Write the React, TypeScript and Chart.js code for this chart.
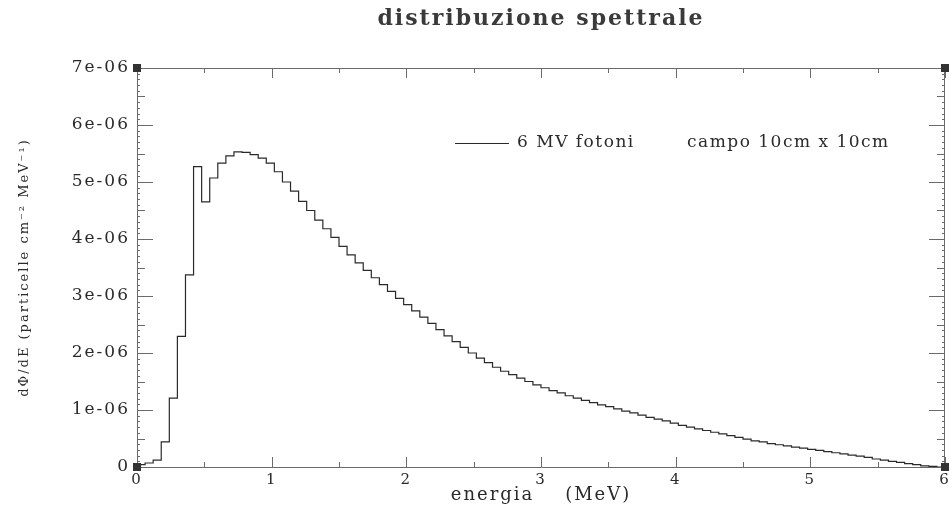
import React, { useEffect, useRef } from 'react';
import { Chart, registerables } from 'chart.js';

Chart.register(...registerables);

// ---- text ----
const TITLE = 'distribuzione spettrale';
const X_TITLE = 'energia    (MeV)';
const Y_TITLE = 'dΦ/dE (particelle cm⁻² MeV⁻¹)';
const SERIES_LABEL = '6 MV fotoni';
const LEGEND_NOTE = 'campo 10cm x 10cm';

// ---- ticks ----
const xTickValues = [0, 1, 2, 3, 4, 5, 6];
const xTickLabels = ['0', '1', '2', '3', '4', '5', '6'];
const yTickValues = [0, 1, 2, 3, 4, 5, 6, 7]; // units of 1e-6
const yTickLabels = ['0', '1e-06', '2e-06', '3e-06', '4e-06', '5e-06', '6e-06', '7e-06'];

// ---- data: bin edges (MeV) and spectral values (units of 1e-6) ----
const binEdges = [
  0, 0.06, 0.12, 0.18, 0.24, 0.3, 0.36, 0.42, 0.48, 0.54,
  0.6, 0.66, 0.72, 0.78, 0.84, 0.9, 0.96, 1.02, 1.08, 1.14,
  1.2, 1.26, 1.32, 1.38, 1.44, 1.5, 1.56, 1.62, 1.68, 1.74,
  1.8, 1.86, 1.92, 1.98, 2.04, 2.1, 2.16, 2.22, 2.28, 2.34,
  2.4, 2.46, 2.52, 2.58, 2.64, 2.7, 2.76, 2.82, 2.88, 2.94,
  3, 3.06, 3.12, 3.18, 3.24, 3.3, 3.36, 3.42, 3.48, 3.54,
  3.6, 3.66, 3.72, 3.78, 3.84, 3.9, 3.96, 4.02, 4.08, 4.14,
  4.2, 4.26, 4.32, 4.38, 4.44, 4.5, 4.56, 4.62, 4.68, 4.74,
  4.8, 4.86, 4.92, 4.98, 5.04, 5.1, 5.16, 5.22, 5.28, 5.34,
  5.4, 5.46, 5.52, 5.58, 5.64, 5.7, 5.76, 5.82, 5.88, 5.94,
  6,
];
const binValues = [
  0.02, 0.04, 0.07, 0.12, 0.44, 1.21, 2.29, 3.37, 5.27, 4.65,
  5.07, 5.33, 5.46, 5.53, 5.52, 5.48, 5.42, 5.33, 5.18, 5.0,
  4.84, 4.66, 4.5, 4.33, 4.18, 4.03, 3.87, 3.72, 3.58, 3.45,
  3.32, 3.2, 3.08, 2.96, 2.85, 2.74, 2.63, 2.52, 2.41, 2.3,
  2.2, 2.1, 2.0, 1.91, 1.83, 1.75, 1.68, 1.62, 1.56, 1.5,
  1.44, 1.39, 1.34, 1.3, 1.25, 1.21, 1.17, 1.13, 1.09, 1.06,
  1.02, 0.98, 0.95, 0.91, 0.87, 0.84, 0.81, 0.77, 0.73, 0.7,
  0.67, 0.64, 0.61, 0.58, 0.55, 0.52, 0.49, 0.46, 0.44, 0.41,
  0.39, 0.37, 0.35, 0.33, 0.31, 0.29, 0.27, 0.25, 0.23, 0.21,
  0.19, 0.17, 0.14, 0.12, 0.1, 0.08, 0.06, 0.04, 0.02, 0.01,
];

const INK = '#2a2a2a';
const AXIS = '#6a6a6a';
const FONT = "'DejaVu Serif', 'Liberation Serif', serif";

const decorPlugin = {
  id: 'decor',
  beforeDraw(chart: any) {
    // the reference lettering is wide; spread glyphs a little
    (chart.ctx as any).letterSpacing = '2px';
  },
  afterDraw(chart: any) {
    const { ctx, chartArea: a, scales } = chart;
    const x = scales.x;
    const y = scales.y;
    ctx.save();
    ctx.strokeStyle = AXIS;
    ctx.lineWidth = 1;
    ctx.beginPath();
    // frame: top and right
    ctx.moveTo(a.left, a.top + 0.5);
    ctx.lineTo(a.right, a.top + 0.5);
    ctx.moveTo(a.right - 0.5, a.top);
    ctx.lineTo(a.right - 0.5, a.bottom);
    // x ticks (bottom up, top down)
    for (let k = 0; k <= 12; k++) {
      const v = k * 0.5;
      const px = Math.round(x.getPixelForValue(v)) + 0.5;
      const len = k % 2 === 0 ? 10 : 5;
      ctx.moveTo(px, a.bottom);
      ctx.lineTo(px, a.bottom - len);
      ctx.moveTo(px, a.top);
      ctx.lineTo(px, a.top + len);
    }
    // y ticks (inward)
    for (let k = 0; k <= 70; k++) {
      const v = k * 0.1;
      const py = Math.round(y.getPixelForValue(v)) + 0.5;
      const len = k % 10 === 0 ? 16 : k % 5 === 0 ? 8 : 3;
      ctx.moveTo(a.left, py);
      ctx.lineTo(a.left + len, py);
      ctx.moveTo(a.right, py);
      ctx.lineTo(a.right - len, py);
    }
    ctx.stroke();

    // corner markers
    ctx.fillStyle = '#333';
    const s = 8;
    for (const [cx, cy] of [
      [a.left, a.top],
      [a.right, a.top],
      [a.left, a.bottom],
      [a.right, a.bottom],
    ]) {
      ctx.fillRect(cx - s / 2, cy - s / 2, s, s);
    }

    // title
    ctx.fillStyle = '#3a3a3a';
    ctx.font = `bold 22px ${FONT}`;
    ctx.textAlign = 'center';
    ctx.textBaseline = 'middle';
    (ctx as any).letterSpacing = '2px';
    ctx.fillText(TITLE, (a.left + a.right) / 2, 19);

    // legend
    const ly = a.top + 75;
    ctx.strokeStyle = INK;
    ctx.beginPath();
    ctx.moveTo(a.left + 318, ly + 0.5);
    ctx.lineTo(a.left + 372, ly + 0.5);
    ctx.stroke();
    ctx.fillStyle = INK;
    ctx.font = `17px ${FONT}`;
    (ctx as any).letterSpacing = '1.5px';
    ctx.textAlign = 'left';
    ctx.fillText(SERIES_LABEL, a.left + 380, ly);
    ctx.fillText(LEGEND_NOTE, a.left + 550, ly);
    ctx.restore();
    (ctx as any).letterSpacing = '0px';
  },
};

export default function App() {
  const ref = useRef<HTMLCanvasElement | null>(null);

  useEffect(() => {
    if (!ref.current) return;
    const points = binValues.map((v, i) => ({ x: binEdges[i], y: v }));
    points.push({ x: binEdges[binEdges.length - 1], y: 0 });

    const chart = new Chart(ref.current, {
      type: 'line',
      data: {
        datasets: [
          {
            label: SERIES_LABEL,
            data: points,
            stepped: 'after',
            borderColor: INK,
            borderWidth: 1.2,
            pointRadius: 0,
            fill: false,
          },
        ],
      },
      plugins: [decorPlugin],
      options: {
        animation: false,
        responsive: false,
        maintainAspectRatio: false,
        layout: { padding: { left: 0, right: 4, top: 68, bottom: 0 } },
        plugins: {
          legend: { display: false },
          tooltip: { enabled: false },
          title: { display: false },
        },
        scales: {
          x: {
            type: 'linear',
            min: 0,
            max: 6,
            afterBuildTicks: (s: any) => {
              s.ticks = xTickValues.map((v) => ({ value: v }));
            },
            afterFit: (s: any) => {
              s.height = 59;
              s.paddingLeft = 0;
              s.paddingRight = 0;
            },
            ticks: {
              callback: (_v: any, i: number) => xTickLabels[i],
              color: INK,
              font: { family: FONT, size: 15 },
              padding: 4,
              maxRotation: 0,
              autoSkip: false,
            },
            grid: { display: false, drawTicks: false },
            border: { display: true, color: AXIS },
            title: {
              display: true,
              text: X_TITLE,
              color: INK,
              font: { family: FONT, size: 18 },
              padding: { top: 0, bottom: 20 },
            },
          },
          y: {
            type: 'linear',
            min: 0,
            max: 7,
            afterBuildTicks: (s: any) => {
              s.ticks = yTickValues.map((v) => ({ value: v }));
            },
            afterFit: (s: any) => {
              s.width = 137;
              s.paddingTop = 0;
              s.paddingBottom = 0;
            },
            ticks: {
              callback: (_v: any, i: number) => yTickLabels[i],
              color: INK,
              font: { family: FONT, size: 17 },
              padding: 7,
              autoSkip: false,
            },
            grid: { display: false, drawTicks: false },
            border: { display: true, color: AXIS },
            title: {
              display: true,
              text: Y_TITLE,
              color: INK,
              font: { family: FONT, size: 13 },
              padding: { top: 17, bottom: 0 },
            },
          },
        },
      },
    });
    return () => chart.destroy();
  }, []);

  return (
    <div style={{ position: 'fixed', left: 0, top: 0, width: 949, height: 526, background: '#fff' }}>
      <canvas ref={ref} width={949} height={526} style={{ width: 949, height: 526, display: 'block' }} />
    </div>
  );
}
